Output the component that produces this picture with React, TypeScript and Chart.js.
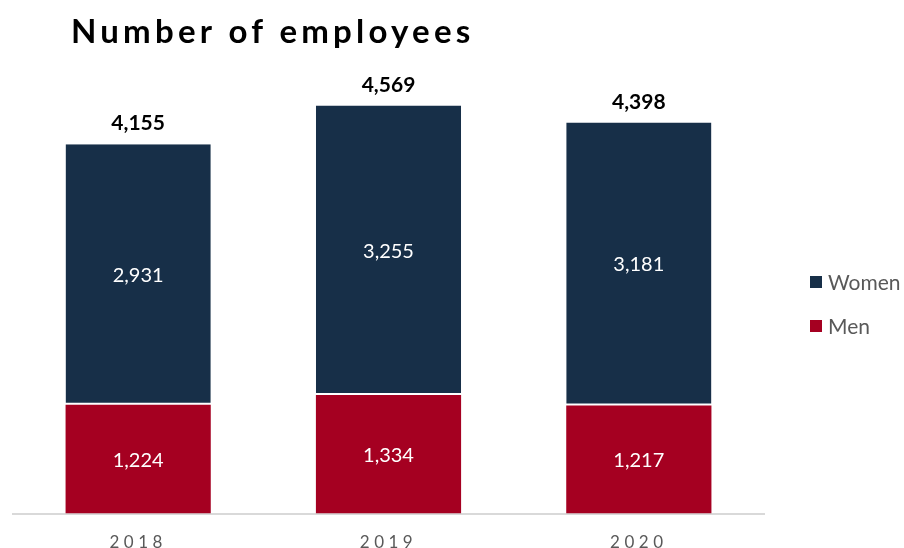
import React, { useEffect, useRef } from "react";
import { Chart, registerables } from "chart.js";

Chart.register(...registerables);

const categories = ["2018", "2019", "2020"];
const menValues = [1224, 1334, 1217];
const womenValues = [2931, 3255, 3181];
const totalValues = [4155, 4569, 4398];
const seriesNames = ["Men", "Women"];
const titleText = "Number of employees";

const MEN_COLOR = "#A50021";
const WOMEN_COLOR = "#172F48";
const FONT = "Lato, 'Open Sans', sans-serif";

const fmt = (v: number) => v.toLocaleString("en-US");

const decorPlugin = {
  id: "decor",
  beforeDraw(chart: any) {
    const ctx = chart.ctx;
    ctx.save();
    ctx.fillStyle = "#000000";
    ctx.font = `bold 33px ${FONT}`;
    (ctx as any).letterSpacing = "4.2px";
    ctx.textAlign = "left";
    ctx.textBaseline = "middle";
    ctx.fillText(titleText, 71, 32);
    ctx.restore();
    (ctx as any).letterSpacing = "4.5px";
  },
  beforeDatasetsDraw(chart: any) {
    (chart.ctx as any).letterSpacing = "0px";
  },
  afterDatasetsDraw(chart: any) {
    const ctx = chart.ctx;
    ctx.save();
    ctx.textAlign = "center";
    ctx.textBaseline = "middle";
    chart.data.datasets.forEach((ds: any, di: number) => {
      const meta = chart.getDatasetMeta(di);
      meta.data.forEach((bar: any, i: number) => {
        const top = Math.min(bar.y, bar.base);
        const bottom = Math.max(bar.y, bar.base);
        ctx.fillStyle = "#ffffff";
        ctx.font = `20px ${FONT}`;
        ctx.fillText(fmt(ds.data[i]), bar.x, (top + bottom) / 2 + 1);
      });
    });
    const topMeta = chart.getDatasetMeta(chart.data.datasets.length - 1);
    topMeta.data.forEach((bar: any, i: number) => {
      ctx.fillStyle = "#000000";
      ctx.font = `bold 21px ${FONT}`;
      ctx.textBaseline = "alphabetic";
      ctx.fillText(fmt(totalValues[i]), bar.x, bar.y - 14);
    });
    // legend (Women first, then Men)
    const items = [...chart.data.datasets].reverse();
    items.forEach((ds: any, k: number) => {
      const cy = 282 + k * 44;
      ctx.fillStyle = ds.backgroundColor;
      ctx.fillRect(810, cy - 6, 12, 12);
      ctx.fillStyle = "#595959";
      ctx.font = `21px ${FONT}`;
      ctx.textAlign = "left";
      ctx.textBaseline = "middle";
      ctx.fillText(ds.label, 828, cy + 1);
    });
    ctx.restore();
  },
};

export default function App() {
  const ref = useRef<HTMLCanvasElement>(null);
  useEffect(() => {
    if (!ref.current) return;
    const chart = new Chart(ref.current, {
      type: "bar",
      data: {
        labels: categories,
        datasets: [
          {
            label: seriesNames[0],
            data: menValues,
            backgroundColor: MEN_COLOR,
            borderWidth: 0,
          },
          {
            label: seriesNames[1],
            data: womenValues,
            backgroundColor: WOMEN_COLOR,
            borderColor: "#ffffff",
            borderWidth: { top: 0, left: 0, right: 0, bottom: 2 },
            borderSkipped: false,
          },
        ],
      },
      options: {
        animation: false,
        responsive: false,
        maintainAspectRatio: false,
        datasets: { bar: { barPercentage: 0.58, categoryPercentage: 1 } },
        layout: { padding: { left: 13, right: 140, top: 69, bottom: -24 } },
        plugins: {
          legend: { display: false },
          title: { display: false },
          tooltip: { enabled: false },
        },
        scales: {
          x: {
            stacked: true,
            grid: { display: false, drawTicks: false },
            border: { display: true, color: "#D9D9D9", width: 2 },
            ticks: {
              color: "#595959",
              font: { family: FONT, size: 17 },
              padding: 19,
            },
          },
          y: {
            stacked: true,
            display: false,
            min: 0,
            max: 5000,
          },
        },
      },
      plugins: [decorPlugin],
    });
    return () => chart.destroy();
  }, []);
  return (
    <div style={{ position: "fixed", left: 0, top: 0, width: 904, height: 548, background: "#fff" }}>
      <canvas ref={ref} width={904} height={548} style={{ width: 904, height: 548 }} />
    </div>
  );
}
